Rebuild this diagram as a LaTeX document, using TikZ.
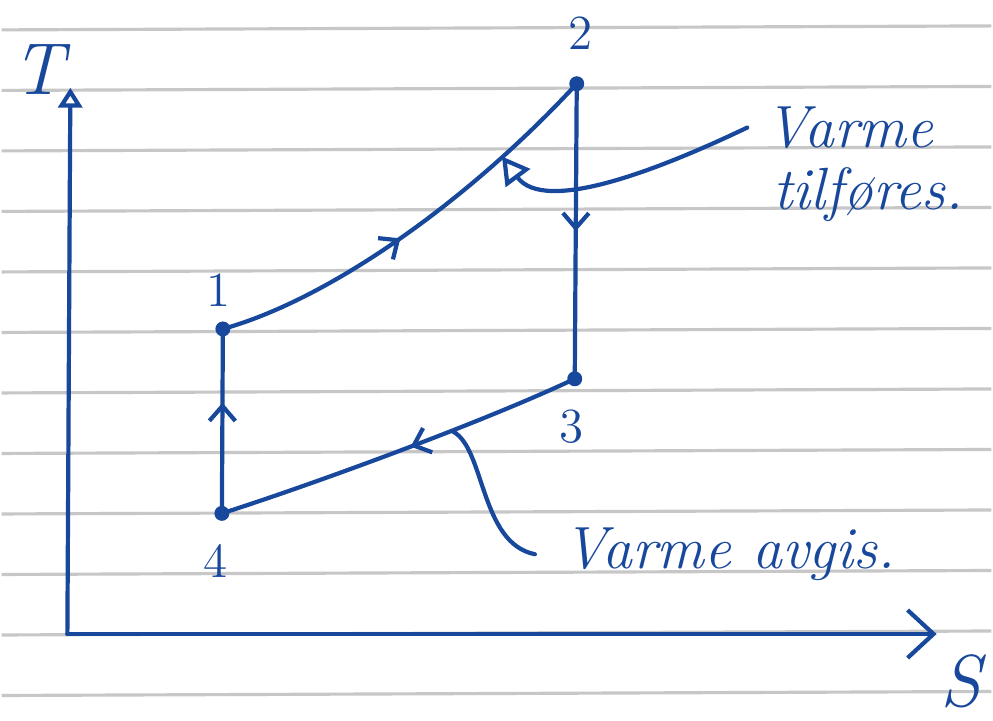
\documentclass[tikz,border=0pt]{standalone}
\usepackage{tikz}
\usetikzlibrary{arrows.meta,decorations.markings}

\definecolor{ink}{RGB}{24,72,156}

\begin{document}
\begin{tikzpicture}[x=0.01cm, y=-0.01cm,
    rule/.style={draw=black!22, line width=0.9pt},
    ink line/.style={color=ink, line width=1.2pt, line cap=round, line join=round},
    dot/.style={circle, fill=ink, inner sep=0pt, minimum size=0.15cm},
    lbl/.style={text=ink, font=\fontsize{14}{16}\selectfont},
    axlbl/.style={text=ink, font=\fontsize{21}{23}\selectfont\itshape},
    hand/.style={text=ink, font=\fontsize{17}{19}\selectfont\itshape, inner ysep=2pt, inner xsep=5pt},
    midarrow/.style={postaction={decorate}, decoration={markings,
        mark=at position #1 with {\arrow{Straight Barb[length=1.5mm,width=2.6mm]}}}},
    midarrow/.default=0.5]

    % paper
    \fill[white] (0,0) rectangle (993,711);
    \foreach \k in {0,...,11}
        \draw[rule] (0,{30+60.7*\k}) -- (993,{26+60.7*\k});

    % axes
    \coordinate (O) at (66,636);
    \coordinate (Ttip) at (69,88);
    \coordinate (Stip) at (938,636);
    \draw[ink line, -{Triangle[open,length=2mm,width=2.4mm]}] (O) -- (Ttip);
    \draw[ink line, -{Straight Barb[length=2.6mm,width=4.8mm]}] (O) -- (Stip);
    \node[axlbl] (tlab) at (37,70) {T};
    \node[axlbl] (slab) at (962,684) {S};

    % states
    \node[dot] (p1) at (222,330) {};
    \node[dot] (p2) at (577,84) {};
    \node[dot] (p3) at (575,380) {};
    \node[dot] (p4) at (221,515) {};
    \node[lbl] (n1) at (218,291) {1};
    \node[lbl] (n2) at (581,33) {2};
    \node[lbl] (n3) at (572,428) {3};
    \node[lbl] (n4) at (215,563) {4};

    % cycle
    \draw[ink line, midarrow=0.46] (p1.center) .. controls (330,300) and (470,200) .. (p2.center);
    \draw[ink line, midarrow] (p2.center) -- (p3.center);
    \draw[ink line, midarrow=0.47] (p3.center) .. controls (480,425) and (300,490) .. (p4.center);
    \draw[ink line, midarrow=0.6] (p4.center) -- (p1.center);

    % heat in / heat out
    \node[hand, anchor=west] (qin1) at (748,128) {Varme};
    \node[hand, anchor=west] (qin2) at (756,195) {tilføres.};
    \coordinate (qinend) at (502,157);
    \draw[ink line, -{Triangle[open,length=2.7mm,width=3mm]}] (qin1.west)
        .. controls (660,170) and (545,215) .. (qinend);

    \node[hand, anchor=west, inner xsep=8pt] (qout) at (535,556) {Varme avgis.};
    \coordinate (qoutend) at (453,433);
    \draw[ink line] (qoutend) .. controls (485,450) and (480,545) .. (qout.west);
\end{tikzpicture}
\end{document}
